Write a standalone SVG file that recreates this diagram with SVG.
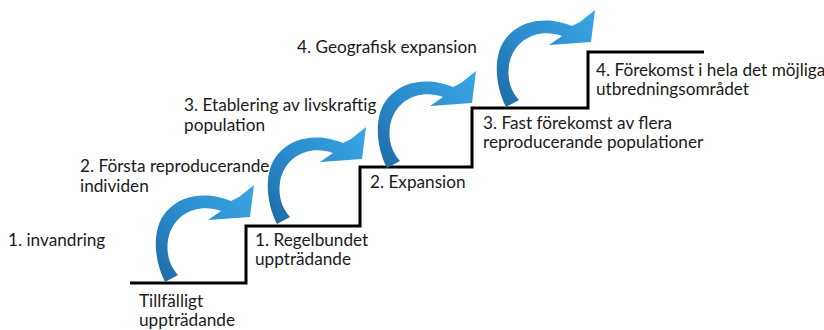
<svg xmlns="http://www.w3.org/2000/svg" xmlns:xlink="http://www.w3.org/1999/xlink" width="824" height="330" viewBox="0 0 824 330">
<style>
text{font-family:Lato,"Open Sans","Liberation Sans",sans-serif;font-size:17.2px;fill:#1a1a1a}
.stair{fill:none;stroke:#000;stroke-width:3;stroke-linejoin:miter}
.arrow{fill:url(#blue)}
</style>
<defs>
<linearGradient id="blue" x1="0" y1="1" x2="1" y2="0">
<stop offset="0" stop-color="#1d6aa3"/>
<stop offset="0.45" stop-color="#2a8acc"/>
<stop offset="1" stop-color="#3aa7e4"/>
</linearGradient>
<path id="arr" class="arrow" d="M165,282 C153,258 152,228 166,212 C178,198 195,194 213,196 C220,197 226,199 231,201 L239,197 L254,185 L250,217 L208,220 L221,211 C200,203 173,212 168,240 C166,255 170,266 178,275 Z"/>
</defs>
<rect width="824" height="330" fill="#fff"/>
<g id="connectors">
<path class="stair" d="M130,283 H246 V226 H360 V167 H472 V108 H588 V52 H704"/>
<use xlink:href="#arr"/>
<use xlink:href="#arr" transform="translate(112,-58)"/>
<use xlink:href="#arr" transform="translate(222,-114)"/>
<use xlink:href="#arr" transform="translate(341,-175)"/>
</g>
<g id="n-invandring"><text x="8" y="246">1. invandring</text></g>
<g id="n-forsta"><text x="80" y="172">2. Första reproducerande</text><text x="80" y="192">individen</text></g>
<g id="n-tillfalligt"><text x="139" y="307">Tillfälligt</text><text x="139" y="326">uppträdande</text></g>
<g id="n-etablering"><text x="184" y="111">3. Etablering av livskraftig</text><text x="184" y="131">population</text></g>
<g id="n-regelbundet"><text x="255" y="246">1. Regelbundet</text><text x="255" y="265">uppträdande</text></g>
<g id="n-geografisk"><text x="297" y="53">4. Geografisk expansion</text></g>
<g id="n-expansion"><text x="370" y="188">2. Expansion</text></g>
<g id="n-fast"><text x="483" y="129">3. Fast förekomst av flera</text><text x="483" y="148">reproducerande populationer</text></g>
<g id="n-forekomst"><text x="596" y="76">4. Förekomst i hela det möjliga</text><text x="596" y="95">utbredningsområdet</text></g>
</svg>
